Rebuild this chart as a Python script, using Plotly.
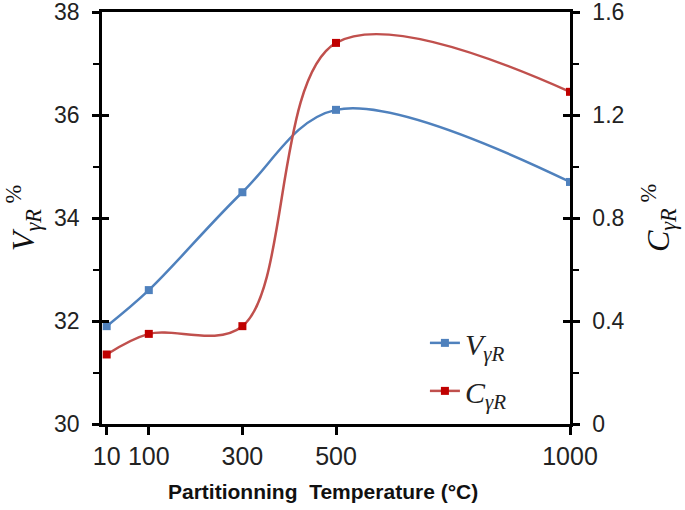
import plotly.graph_objects as go

temps = [10, 100, 300, 500, 1000]
tick_labels = ["10", "100", "300", "500", "1000"]
v_gamma = [31.9, 32.6, 34.5, 36.1, 34.7]
c_gamma = [0.27, 0.35, 0.38, 1.48, 1.29]
x_title = "Partitionning  Temperature (°C)"

BLUE = "#4F81BD"
RED_LINE = "#C0504D"
RED_MARK = "#C00000"

fig = go.Figure()
fig.add_trace(go.Scatter(
    x=temps, y=v_gamma, name="<i>V</i><sub><i>γR</i></sub>",
    mode="lines+markers", line=dict(color=BLUE, width=2.5, shape="spline", smoothing=1),
    marker=dict(symbol="square", size=8, color=BLUE), yaxis="y", legendgroup="a"))
fig.add_trace(go.Scatter(
    x=temps, y=c_gamma, name="<i>C</i><sub><i>γR</i></sub>",
    mode="lines+markers", line=dict(color=RED_LINE, width=2.5, shape="spline", smoothing=1),
    marker=dict(symbol="square", size=8, color=RED_MARK), yaxis="y2", legendgroup="b"))
# empty helper traces so the inside-tick overlay axes get drawn
fig.add_trace(go.Scatter(x=[None], y=[None], yaxis="y3", showlegend=False, hoverinfo="skip"))
fig.add_trace(go.Scatter(x=[None], y=[None], yaxis="y4", showlegend=False, hoverinfo="skip"))

ytickfont = dict(family="Liberation Sans, Arial", size=23, color="#222")
xtickfont = dict(family="Liberation Sans, Arial", size=25, color="#222")
titlefont = dict(family="Liberation Serif, DejaVu Serif", size=32, color="#111")
fig.update_layout(
    width=685, height=510,
    margin=dict(l=102, r=115, t=12, b=86),
    plot_bgcolor="white", paper_bgcolor="white",
    showlegend=True,
    legend=dict(x=0.69, y=0.26, xanchor="left", yanchor="top",
                font=dict(family="Liberation Serif, DejaVu Serif", size=30, color="#222"),
                bgcolor="rgba(0,0,0,0)", itemwidth=30, tracegroupgap=6, traceorder="grouped"),
    xaxis=dict(range=[0, 1000], tickvals=temps, ticktext=tick_labels, automargin=False,
               showline=True, linecolor="black", linewidth=2.5, mirror=True,
               ticks="outside", ticklen=8, tickwidth=2.5, tickcolor="black",
               showgrid=False, zeroline=False, tickfont=xtickfont, ticklabeloverflow="allow"),
    yaxis=dict(range=[30, 38], dtick=2, showline=True, linecolor="black", linewidth=2.5, automargin=False,
               ticks="outside", ticklen=7, tickwidth=2.5, tickcolor="black", ticklabeloverflow="allow",
               ticklabelstandoff=8,
               minor=dict(dtick=1, ticks="outside", ticklen=6, tickwidth=2, tickcolor="black"),
               showgrid=False, zeroline=False, tickfont=ytickfont,
               title=dict(text="<i>V</i><sub><i>γR</i></sub><sup> %</sup>", font=titlefont, standoff=10)),
    yaxis2=dict(range=[0, 1.6], dtick=0.4, overlaying="y", side="right", anchor="x", automargin=False,
                showline=True, linecolor="black", linewidth=2.5, ticklabeloverflow="allow",
                ticklabelstandoff=8,
                ticks="outside", ticklen=7, tickwidth=2.5, tickcolor="black",
                minor=dict(dtick=0.2, ticks="outside", ticklen=6, tickwidth=2, tickcolor="black"),
                showgrid=False, zeroline=False, tickfont=ytickfont, tickformat="~g",
                title=dict(text="<i>C</i><sub><i>γR</i></sub><sup> %</sup>", font=titlefont, standoff=24)),
    yaxis3=dict(range=[30, 38], dtick=2, overlaying="y", side="left", anchor="x", automargin=False,
                ticks="inside", ticklen=7, tickwidth=2.5, tickcolor="black",
                showticklabels=False, showline=False, showgrid=False, zeroline=False),
    yaxis4=dict(range=[0, 1.6], dtick=0.4, overlaying="y", side="right", anchor="x", automargin=False,
                ticks="inside", ticklen=7, tickwidth=2.5, tickcolor="black",
                showticklabels=False, showline=False, showgrid=False, zeroline=False),
    annotations=[dict(text="<b>" + x_title + "</b>", xref="paper", yref="paper",
                      x=0.472, y=-0.165, xanchor="center", yanchor="middle", showarrow=False,
                      font=dict(family="Liberation Sans, Arial", size=21, color="#111"))],
)

fig.write_html("out.html", config={"displayModeBar": False},
               post_script="document.body.style.margin='0';")
